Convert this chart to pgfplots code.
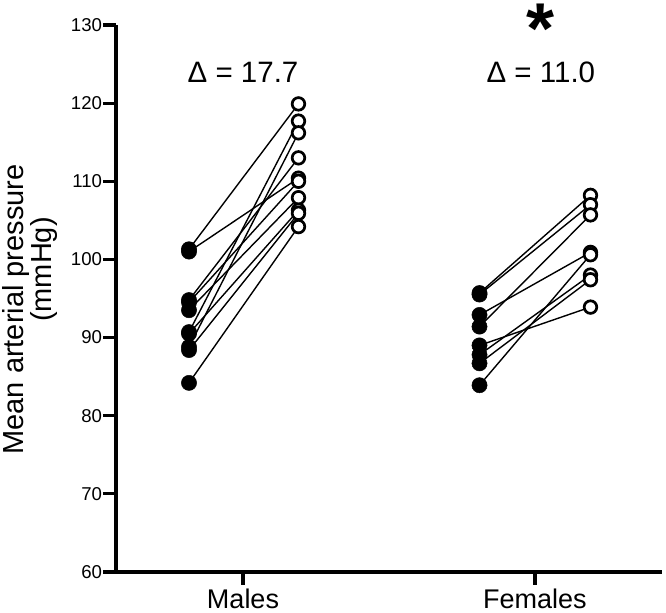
\documentclass[border=0pt]{standalone}
\usepackage{pgfplots}
\pgfplotsset{compat=1.18}
\usepackage{fontspec}
\setmainfont{Liberation Sans}
\begin{document}
\begin{tikzpicture}
\begin{axis}[
  scale only axis, width=546pt, height=547pt,
  xmin=0.565, xmax=2.435, ymin=60, ymax=130,
  axis x line*=bottom, axis y line*=left,
  axis line style={-, line width=3.2pt},
  xtick={1,2}, xticklabels={Males,Females},
  ytick={60,70,...,130},
  tick style={line width=3.2pt, black},
  tick align=outside, major tick length=13pt,
  /pgf/number format/assume math mode=true,
  yticklabel style={font=\fontsize{18.6}{18.6}\selectfont, xshift=2.5pt},
  xticklabel style={font=\fontsize{27}{27}\selectfont},
  clip=false,
  every axis plot/.append style={line width=1.4pt, black},
]
% Males lines
\addplot[no marks] coordinates {(0.815,101.3) (1.19,119.9)};
\addplot[no marks] coordinates {(0.815,101.0) (1.19,110.4)};
\addplot[no marks] coordinates {(0.815,94.8) (1.19,113.0)};
\addplot[no marks] coordinates {(0.815,94.5) (1.19,110.0)};
\addplot[no marks] coordinates {(0.815,93.5) (1.19,107.9)};
\addplot[no marks] coordinates {(0.815,90.7) (1.19,117.7)};
\addplot[no marks] coordinates {(0.815,90.5) (1.19,106.3)};
\addplot[no marks] coordinates {(0.815,88.8) (1.19,116.2)};
\addplot[no marks] coordinates {(0.815,88.4) (1.19,105.9)};
\addplot[no marks] coordinates {(0.815,84.2) (1.19,104.2)};
% Females lines
\addplot[no marks] coordinates {(1.81,95.7) (2.19,108.2)};
\addplot[no marks] coordinates {(1.81,95.5) (2.19,107.0)};
\addplot[no marks] coordinates {(1.81,92.9) (2.19,100.9)};
\addplot[no marks] coordinates {(1.81,91.4) (2.19,105.7)};
\addplot[no marks] coordinates {(1.81,89.0) (2.19,93.9)};
\addplot[no marks] coordinates {(1.81,87.8) (2.19,98.0)};
\addplot[no marks] coordinates {(1.81,86.7) (2.19,97.4)};
\addplot[no marks] coordinates {(1.81,83.9) (2.19,100.6)};
% Pre markers (filled)
\addplot[only marks, mark=*, mark size=7.6pt, mark options={fill=black, draw=black, line width=0.5pt}] coordinates {
(0.815,101.3) (0.815,101.0) (0.815,94.8) (0.815,94.5) (0.815,93.5) (0.815,90.7) (0.815,90.5) (0.815,88.8) (0.815,88.4) (0.815,84.2)
(1.81,95.7) (1.81,95.5) (1.81,92.9) (1.81,91.4) (1.81,89.0) (1.81,87.8) (1.81,86.7) (1.81,83.9)};
% Post markers (open)
\addplot[only marks, mark=*, mark size=6.3pt, mark options={fill=white, draw=black, line width=2.7pt}] coordinates {
(1.19,119.9) (1.19,110.4) (1.19,113.0) (1.19,110.0) (1.19,107.9) (1.19,117.7) (1.19,106.3) (1.19,116.2) (1.19,105.9) (1.19,104.2)
(2.19,108.2) (2.19,107.0) (2.19,100.9) (2.19,105.7) (2.19,93.9) (2.19,98.0) (2.19,97.4) (2.19,100.6)};
\node[font=\fontsize{29.5}{29.5}\selectfont] at (axis cs:1,124) {Δ = 17.7};
\node[font=\fontsize{29.5}{29.5}\selectfont] at (axis cs:2.02,124) {Δ = 11.0};
\node[font=\fontsize{72}{72}\bfseries\selectfont, anchor=north, inner sep=0pt] at (axis cs:2.018,132.7) {*};
\node[rotate=90, anchor=base, font=\fontsize{29}{29}\selectfont, inner sep=0pt] at ([xshift=-92pt]axis cs:0.565,93.6) {Mean arterial pressure};
\node[rotate=90, anchor=base, font=\fontsize{29}{29}\selectfont, inner sep=0pt] at ([xshift=-64pt]axis cs:0.565,98.7) {(mmHg)};
\end{axis}
\path (current axis.south west) ++(-116pt,-41pt);
\path (current axis.north east) ++(4pt,25pt);
\end{tikzpicture}
\end{document}
